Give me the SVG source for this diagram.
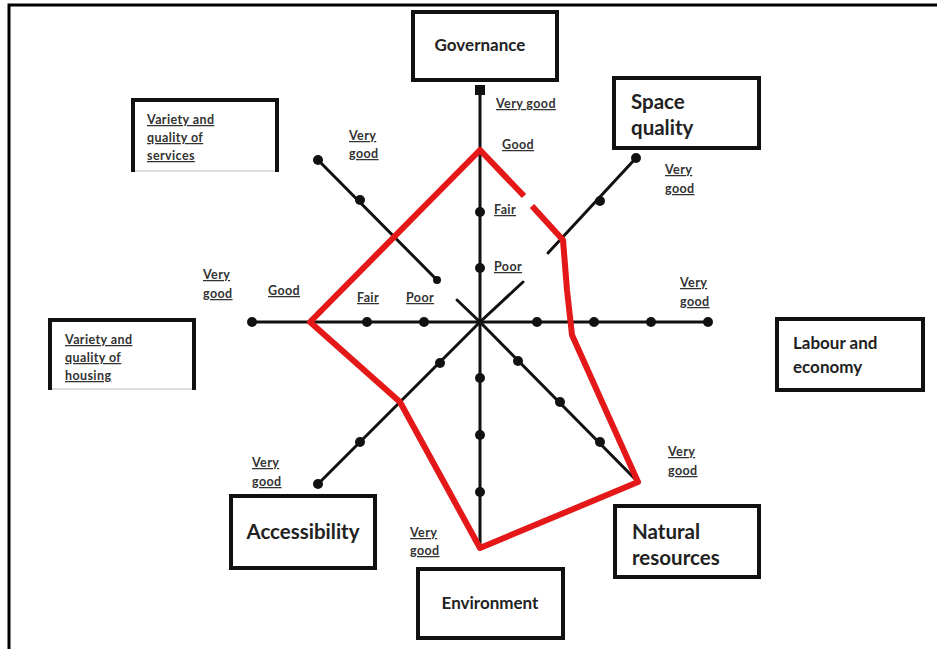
<svg xmlns="http://www.w3.org/2000/svg" width="937" height="649" viewBox="0 0 937 649">
<style>
.frame{fill:none;stroke:#000;stroke-width:3}
.box{fill:#fff;stroke:#111;stroke-width:4}
.axis{fill:none;stroke:#111;stroke-width:3;stroke-linecap:round}
.dot{fill:#111}
.red{fill:none;stroke:#e41818;stroke-width:6;stroke-linejoin:round;stroke-linecap:butt}
.lbl{font-family:Lato,"Open Sans",sans-serif;font-weight:bold;font-size:12.5px;letter-spacing:0.4px;fill:#333;text-decoration:underline}
.t1{font-family:Lato,"Open Sans",sans-serif;font-weight:bold;font-size:17px;fill:#222}
.t2{font-family:Lato,"Open Sans",sans-serif;font-weight:bold;font-size:20.5px;fill:#222}
.t3{font-family:Lato,"Open Sans",sans-serif;font-weight:bold;font-size:12.5px;letter-spacing:0.4px;fill:#333;text-decoration:underline}
</style>
<rect width="937" height="649" fill="#fff"/>
<path class="frame" d="M9,649 V5 H937"/>

<g id="connectors">
  <line class="axis" x1="480" y1="90" x2="480" y2="548"/>
  <line class="axis" x1="252" y1="322" x2="708" y2="322"/>
  <line class="axis" x1="480" y1="322" x2="523" y2="282"/>
  <line class="axis" x1="548" y1="253" x2="636" y2="158"/>
  <line class="axis" x1="318" y1="160" x2="437" y2="280"/>
  <line class="axis" x1="457" y1="300" x2="480" y2="322"/>
  <line class="axis" x1="480" y1="322" x2="638" y2="482"/>
  <line class="axis" x1="480" y1="322" x2="318" y2="484"/>
  <g class="dot">
    <rect x="475" y="85" width="10" height="10"/>
    <circle cx="480" cy="212" r="5"/><circle cx="480" cy="268" r="5"/>
    <circle cx="480" cy="378" r="5"/><circle cx="480" cy="435" r="5"/><circle cx="480" cy="492" r="5"/>
    <circle cx="252" cy="322" r="5"/><circle cx="367" cy="322" r="5"/><circle cx="424" cy="322" r="5"/>
    <circle cx="537" cy="322" r="5"/><circle cx="594" cy="322" r="5"/><circle cx="651" cy="322" r="5"/><circle cx="708" cy="322" r="5"/>
    <circle cx="636" cy="158" r="5"/><circle cx="600" cy="201" r="5"/>
    <circle cx="318" cy="160" r="5"/><circle cx="360" cy="200" r="5"/><circle cx="437" cy="280" r="4"/>
    <circle cx="518" cy="361" r="5"/><circle cx="560" cy="402" r="5"/><circle cx="600" cy="442" r="5"/>
    <circle cx="440" cy="363" r="5"/><circle cx="360" cy="442" r="5"/><circle cx="318" cy="484" r="5"/>
  </g>
  <path class="red" d="M524,196 L480,150 L310,322 L400,402 L480,548 L638,482 L572,335 L567,290 L563,240 L532,206"/>
</g>

<g id="labels">
  <text class="lbl" x="496" y="108">Very good</text>
  <text class="lbl" x="502" y="149">Good</text>
  <text class="lbl" x="494" y="214">Fair</text>
  <text class="lbl" x="494" y="271">Poor</text>
  <text class="lbl" x="349" y="140">Very</text><text class="lbl" x="349" y="158">good</text>
  <text class="lbl" x="665" y="174">Very</text><text class="lbl" x="665" y="193">good</text>
  <text class="lbl" x="203" y="279">Very</text><text class="lbl" x="203" y="298">good</text>
  <text class="lbl" x="268" y="295">Good</text>
  <text class="lbl" x="357" y="302">Fair</text>
  <text class="lbl" x="406" y="302">Poor</text>
  <text class="lbl" x="680" y="287">Very</text><text class="lbl" x="680" y="306">good</text>
  <text class="lbl" x="668" y="456">Very</text><text class="lbl" x="668" y="475">good</text>
  <text class="lbl" x="252" y="467">Very</text><text class="lbl" x="252" y="486">good</text>
  <text class="lbl" x="410" y="537">Very</text><text class="lbl" x="410" y="555">good</text>
</g>

<g id="governance">
  <rect class="box" x="413" y="12" width="144" height="68"/>
  <text class="t1" x="480" y="51" text-anchor="middle">Governance</text>
</g>
<g id="services">
  <path class="box" d="M133,172 V100 H277 V172"/>
  <line x1="135" y1="171" x2="275" y2="171" stroke="#bbb" stroke-width="1"/>
  <text class="t3" x="147" y="124">Variety and</text>
  <text class="t3" x="147" y="142">quality of</text>
  <text class="t3" x="147" y="160">services</text>
</g>
<g id="space-quality">
  <rect class="box" x="614" y="78" width="145" height="70"/>
  <text class="t2" x="631" y="109">Space</text>
  <text class="t2" x="631" y="135">quality</text>
</g>
<g id="housing">
  <path class="box" d="M50,390 V320 H194 V390"/>
  <line x1="52" y1="389" x2="192" y2="389" stroke="#bbb" stroke-width="1"/>
  <text class="t3" x="65" y="344">Variety and</text>
  <text class="t3" x="65" y="362">quality of</text>
  <text class="t3" x="65" y="380">housing</text>
</g>
<g id="labour">
  <rect class="box" x="777" y="319" width="146" height="71"/>
  <text class="t1" x="793" y="349">Labour and</text>
  <text class="t1" x="793" y="373">economy</text>
</g>
<g id="accessibility">
  <rect class="box" x="231" y="496" width="144" height="72"/>
  <text class="t2" x="303" y="539" text-anchor="middle">Accessibility</text>
</g>
<g id="environment">
  <rect class="box" x="418" y="569" width="145" height="69"/>
  <text class="t1" x="490" y="609" text-anchor="middle">Environment</text>
</g>
<g id="natural-resources">
  <rect class="box" x="615" y="506" width="144" height="71"/>
  <text class="t2" x="632" y="539">Natural</text>
  <text class="t2" x="632" y="565">resources</text>
</g>
</svg>
